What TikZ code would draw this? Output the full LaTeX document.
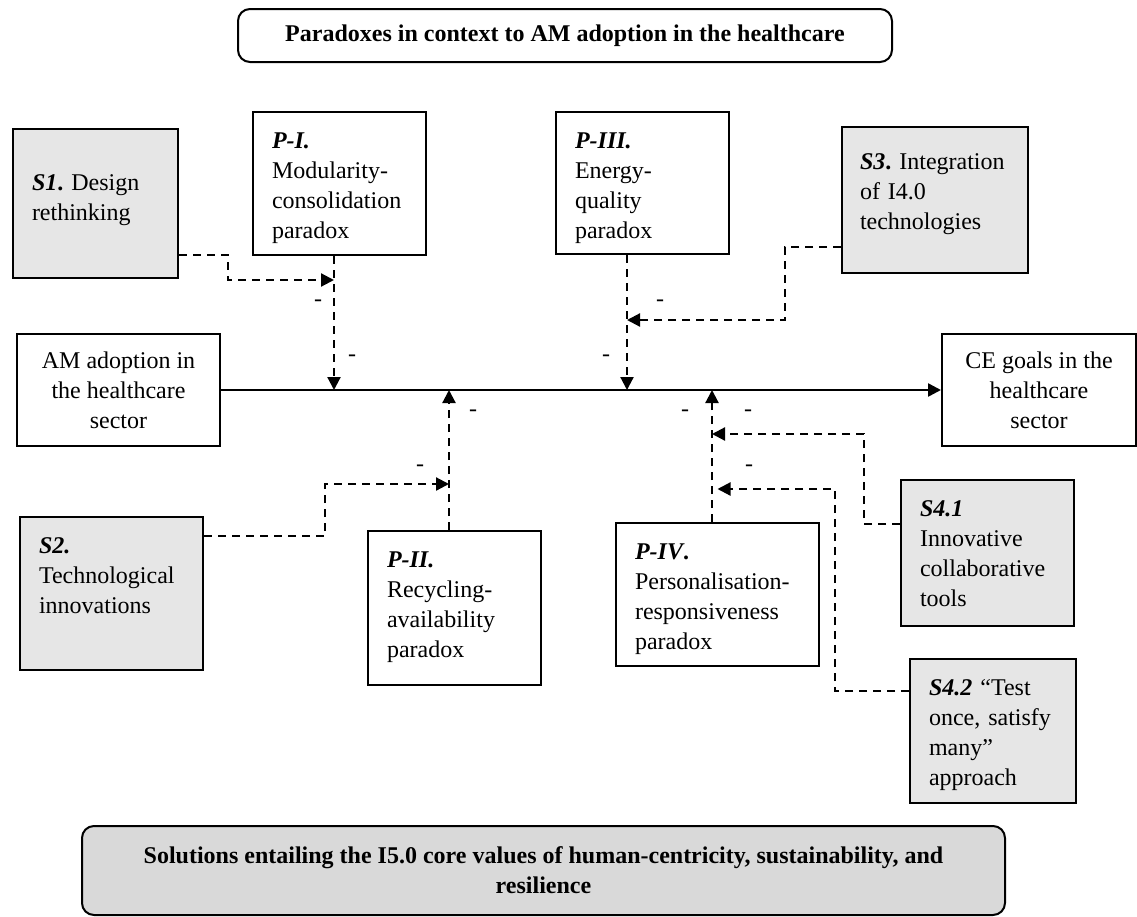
\documentclass[tikz,border=0pt]{standalone}
\usepackage{fontspec}
\setmainfont{Liberation Serif}
\usepackage{xcolor}
\usepackage{tikz}
\usetikzlibrary{shapes,arrows,arrows.meta,positioning}
\definecolor{solgray}{HTML}{E6E6E6}
\definecolor{basegray}{HTML}{D9D9D9}
\hyphenpenalty=10000
\newcommand{\boxfont}{\fontsize{24}{30}\selectfont\frenchspacing}
\tikzstyle{paradox} = [draw, line width=2pt, fill=white, anchor=north west, align=left, inner xsep=19pt, inner ysep=17pt, text height=19pt, font=\boxfont]
\tikzstyle{solution} = [paradox, fill=solgray]
\tikzstyle{goal} = [draw, line width=2pt, anchor=north west, align=center, font=\boxfont]
\tikzstyle{banner} = [draw, line width=2pt, rounded corners=12pt, anchor=north west, align=center, font=\boxfont\bfseries]
\tikzset{
  dline/.style ={draw, line width=2.2pt, dash pattern=on 8pt off 6pt, -{Triangle[length=13pt,width=13pt]}},
  axis/.style ={draw, line width=2.5pt, -{Triangle[length=13pt,width=13pt]}},
  minus/.style ={inner sep=0pt, font=\boxfont}
}

\begin{document}
\begin{tikzpicture}[x=1pt, y=-1pt]
  \useasboundingbox (0,0) rectangle (1137,916);

  \node[banner, minimum width=654pt, minimum height=53pt] (title) at (237,8) {Paradoxes in context to AM adoption in the healthcare};

  \node[solution, text width=127pt, text height=44pt, text depth=71pt] (s1) at (12,128) {\textbf{\textit{S1}.} Design\\rethinking};
  \node[paradox, text width=135pt, text depth=90pt] (pI) at (252,111) {\textbf{\textit{P-I.}}\\Modularity-\\consolidation\\paradox};
  \node[paradox, text width=135pt, text depth=89pt] (pIII) at (555,111) {\textbf{\textit{P-III.}}\\Energy-\\quality\\paradox};
  \node[solution, text width=150pt, text height=25pt, text depth=87pt, inner xsep=18pt] (s3) at (841,126) {\textbf{\textit{S3}.} Integration\\of I4.0\\technologies};

  \node[goal, minimum width=203pt, minimum height=112pt] (am) at (16,333) {AM adoption in\\the healthcare\\sector};
  \node[goal, minimum width=194pt, minimum height=112pt] (ce) at (941,333) {CE goals in the\\healthcare\\sector};

  \node[solution, text width=145pt, text depth=100pt] (s2) at (19,516) {\textbf{\textit{S2.}}\\Technological\\innovations};
  \node[paradox, text width=135pt, text depth=101pt] (pII) at (367,530) {\textbf{\textit{P-II.}}\\Recycling-\\availability\\paradox};
  \node[paradox, text width=165pt, text depth=90pt] (pIV) at (615,522) {\textbf{\textit{P-IV}.}\\Personalisation-\\responsiveness\\paradox};
  \node[solution, text width=135pt, text depth=93pt] (s41) at (900,479) {\textbf{\textit{S4.1}}\\Innovative\\collaborative\\tools};
  \node[solution, text width=128pt, text depth=91pt] (s42) at (909,658) {\textbf{\textit{S4.2}} “Test\\once, satisfy\\many”\\approach};

  \node[banner, fill=basegray, minimum width=923pt, minimum height=89pt] (base) at (81,825) {Solutions entailing the I5.0 core values of human-centricity, sustainability, and\\resilience};

  % main flow
  \path[axis] (am.east) -- (ce.west);

  % paradoxes onto the flow
  \begin{scope}[every path/.style=dline]
    \path ([xshift=-5.5pt]pI.south) -- ([xshift=-5.5pt]pI.south |- am.east);
    \path ([xshift=-15.5pt]pIII.south) -- ([xshift=-15.5pt]pIII.south |- am.east);
    \path ([xshift=-5.5pt]pII.north) -- ([xshift=-5.5pt]pII.north |- am.east);
    \path ([xshift=-5.5pt]pIV.north) -- ([xshift=-5.5pt]pIV.north |- am.east);
  \end{scope}

  % solutions onto the paradoxes
  \begin{scope}[every path/.style=dline]
    \path ([yshift=24pt]s1.south east) -- ++(49,0) |- ([xshift=-5.5pt,yshift=-24pt]pI.south);
    \path ([yshift=-47pt]s3.west) -- ++(-56,0) |- ([xshift=-15.5pt,yshift=-65pt]pIII.south);
    \path ([yshift=57.5pt]s2.east) -- ++(121,0) |- ([xshift=-5.5pt,yshift=46pt]pII.north);
    \path ([yshift=29pt]s41.west) -- ++(-36,0) |- ([xshift=-5.5pt,yshift=88pt]pIV.north);
    \path ([yshift=40pt]s42.west) -- ++(-74,0) |- ([yshift=33pt]pIV.north);
  \end{scope}

  % negative signs
  \node[minus] (m1) at (318,303) {-};
  \node[minus] (m2) at (352,358) {-};
  \node[minus] (m3) at (420,468) {-};
  \node[minus] (m4) at (473,413) {-};
  \node[minus] (m5) at (660,303) {-};
  \node[minus] (m6) at (606,358) {-};
  \node[minus] (m7) at (685,413) {-};
  \node[minus] (m8) at (748,413) {-};
  \node[minus] (m9) at (749,468) {-};
\end{tikzpicture}
\end{document}
